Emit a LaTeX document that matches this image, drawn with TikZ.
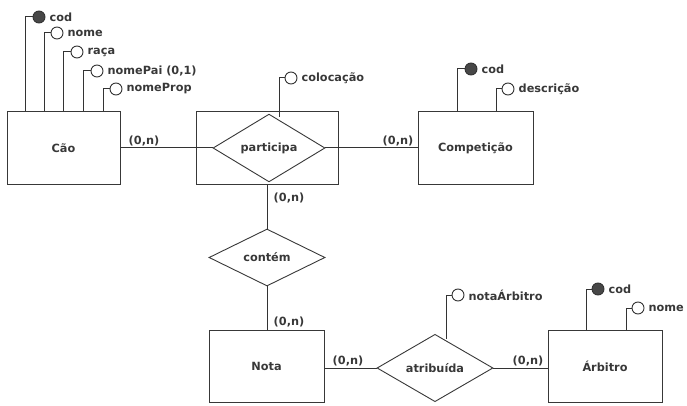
\documentclass[tikz,border=0pt]{standalone}
\usepackage{fontspec}
\setmainfont{DejaVu Sans}
\usetikzlibrary{shapes.geometric,shadows}
\begin{document}
\begin{tikzpicture}[x=1pt,y=-1pt,
  every node/.style={font=\bfseries\fontsize{11.3}{13}\selectfont, text=black!78},
  entity/.style={draw=black!78, line width=1pt, fill=white, minimum width=#1,
    minimum height=72pt, inner sep=0pt,
    drop shadow={shadow xshift=1.3pt, shadow yshift=-1.3pt, fill=black!40, opacity=1}},
  rel/.style 2 args={diamond, draw=black!78, line width=0.9pt, fill=white,
    inner sep=0pt, minimum width=#1, minimum height=#2},
  attr/.style={circle, draw=black!80, line width=0.9pt, fill=white,
    minimum size=12pt, inner sep=0pt},
  keyattr/.style={attr, fill=black!72},
  lbl/.style={anchor=west, inner sep=0pt, xshift=4pt},
  card/.style={inner sep=0pt},
  link/.style={draw=black!80, line width=1pt}]
\useasboundingbox (0,0) rectangle (687,406);

% entities, aggregation and relationships
\node[entity=113pt] (cao) at (63.5,148) {Cão};
\node[entity=142pt] (agg) at (267,148) {};
\node[rel={112pt}{41pt}] (part) at (269,148) {participa};
\node[entity=115pt] (comp) at (475.5,148) {Competição};
\node[rel={116pt}{57pt}] (cont) at (267,257.5) {contém};
\node[entity=115pt] (nota) at (266.5,366) {Nota};
\node[rel={116pt}{58pt}] (atr) at (435,368) {atribuída};
\node[entity=114pt] (arb) at (605,366) {Árbitro};

% relationship links
\draw[link] (cao.east) -- (part.west);
\draw[link] (part.east) -- (comp.west);
\draw[link] (agg.south -| cont.north) -- (cont.north);
\draw[link] (cont.south) -- (nota.north -| cont.south);
\draw[link] (atr.west -| nota.east) -- (atr.west);
\draw[link] (atr.east) -- (atr.east -| arb.west);

% cardinalities
\node[card] (c1) at (144,141) {(0,n)};
\node[card] (c2) at (398,141) {(0,n)};
\node[card] (c3) at (289,198) {(0,n)};
\node[card] (c4) at (289,322) {(0,n)};
\node[card] (c5) at (348,361) {(0,n)};
\node[card] (c6) at (528,361) {(0,n)};

% attributes of Cão
\node[keyattr] (caoCod) at (39,17) {};
\node[lbl] (caoCodL) at (caoCod.east) {cod};
\draw[link] (caoCod.west) -| ([xshift=19pt]cao.north west);
\node[attr] (caoNome) at (57,33) {};
\node[lbl] (caoNomeL) at (caoNome.east) {nome};
\draw[link] (caoNome.west) -| ([xshift=38pt]cao.north west);
\node[attr] (caoRaca) at (77,52) {};
\node[lbl] (caoRacaL) at (caoRaca.east) {raça};
\draw[link] (caoRaca.west) -| ([xshift=57pt]cao.north west);
\node[attr] (caoPai) at (97,71) {};
\node[lbl] (caoPaiL) at (caoPai.east) {nomePai (0,1)};
\draw[link] (caoPai.west) -| ([xshift=77pt]cao.north west);
\node[attr] (caoProp) at (116,89) {};
\node[lbl] (caoPropL) at (caoProp.east) {nomeProp};
\draw[link] (caoProp.west) -| ([xshift=97pt]cao.north west);

% attribute of participa
\node[attr] (colo) at (291,78) {};
\node[lbl] (coloL) at (colo.east) {colocação};
\draw[link] (colo.west) -| ([xshift=10pt,yshift=-3.7pt]part.north);

% attributes of Competição
\node[keyattr] (compCod) at (471,69) {};
\node[lbl] (compCodL) at (compCod.east) {cod};
\draw[link] (compCod.west) -| ([xshift=40pt]comp.north west);
\node[attr] (compDesc) at (508,89) {};
\node[lbl] (compDescL) at (compDesc.east) {descrição};
\draw[link] (compDesc.west) -| ([xshift=79pt]comp.north west);

% attribute of atribuída
\node[attr] (notaArb) at (458,295) {};
\node[lbl] (notaArbL) at (notaArb.east) {notaÁrbitro};
\draw[link] (notaArb.west) -| ([xshift=11pt,yshift=-5.5pt]atr.north);

% attributes of Árbitro
\node[keyattr] (arbCod) at (598,289) {};
\node[lbl] (arbCodL) at (arbCod.east) {cod};
\draw[link] (arbCod.west) -| ([xshift=39pt]arb.north west);
\node[attr] (arbNome) at (638,308) {};
\node[lbl] (arbNomeL) at (arbNome.east) {nome};
\draw[link] (arbNome.west) -| ([xshift=79pt]arb.north west);
\end{tikzpicture}
\end{document}
